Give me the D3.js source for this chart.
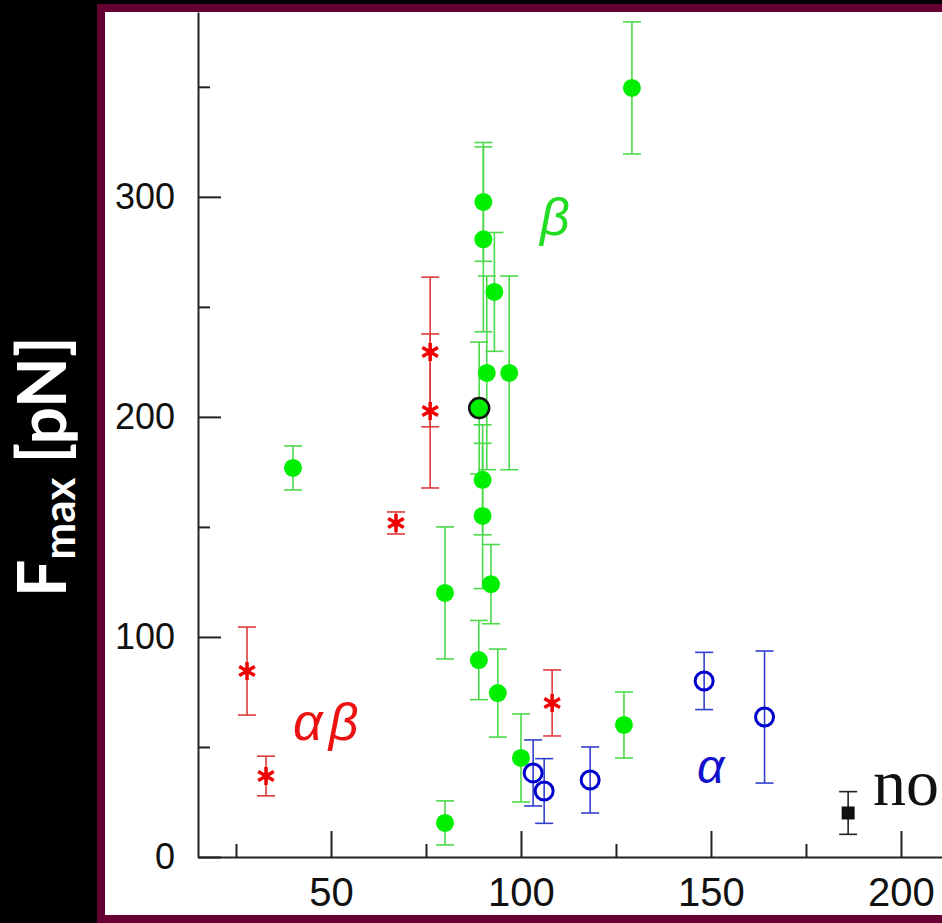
<!DOCTYPE html>
<html>
<head>
<meta charset="utf-8">
<script src="https://cdn.jsdelivr.net/npm/d3@7"></script>
<style>
  body { margin: 0; background: #000; }
  svg { display: block; }
</style>
</head>
<body>
<script>
// beta group (filled green circles): x, Fmax, error
const betaX   = [129.2, 90.1, 90.1, 93.0, 91.0, 96.9, 89.0, 89.9, 89.9, 40.0, 92.1, 80.0, 88.9, 93.9, 100.0, 127.1, 80.0];
const betaY   = [349.5, 297.7, 280.7, 256.8, 220.0, 220.0, 204.0, 171.4, 155.0, 176.8, 124.0, 120.0, 89.5, 74.5, 45.0, 60.0, 15.5];
const betaErr = [30, 27, 42, 27, 44, 44, 30, 25, 33, 10, 18, 30, 18, 20, 20, 15, 10];
const betaHighlight = 6; // the one with a black ring

// alpha-beta group (red asterisks)
const abX   = [27.9, 32.9, 67.1, 76.1, 76.1, 108.2];
const abY   = [84.5, 36.8, 151.8, 229.5, 202.7, 70.0];
const abErr = [20, 9, 5, 34, 35, 15];

// alpha group (open blue circles)
const alphaX   = [103.2, 106.1, 118.2, 148.2, 164.1];
const alphaY   = [38.2, 30.0, 35.0, 80.0, 63.6];
const alphaErr = [15, 14.7, 15, 13, 30];

// no structure (black square)
const noX   = [186.1];
const noY   = [20.0];
const noErr = [9.7];

// ticks
const xMajorTicks = [50, 100, 150, 200];
const xMinorTicks = [25, 75, 125, 175];
const yMajorTicks = [0, 100, 200, 300];
const yMinorTicks = [50, 150, 250, 350];

let width = 942, height = 923;

let svg = d3.select('body')
    .append('svg')
    .attr('width', width)
    .attr('height', height);

// background and frame
svg.append('rect').attr('width', width).attr('height', height).attr('fill', '#000');
svg.append('rect').attr('x', 97).attr('y', 4).attr('width', 900).attr('height', 940).attr('fill', '#660033');
svg.append('rect').attr('x', 105).attr('y', 12).attr('width', 900).attr('height', 903).attr('fill', '#fff');

// scales
const xScale = d3.scaleLinear().domain([15, 210.8]).range([198, 942]);
const yScale = d3.scaleLinear().domain([0, 384]).range([857, 12]);

// axes
function styleAxis(g, size) {
    g.selectAll('path, line').attr('stroke', '#222').attr('stroke-width', 2);
    g.selectAll('text')
        .attr('fill', '#111')
        .style('font-family', '"Liberation Sans", Arial, sans-serif')
        .style('font-size', size + 'px');
}

svg.append('g')
    .attr('transform', 'translate(0,857)')
    .call(d3.axisBottom(xScale).tickValues(xMinorTicks).tickSize(-13).tickFormat(''))
    .call(g => g.select('.domain').remove())
    .call(g => styleAxis(g, 40));

svg.append('g')
    .attr('transform', 'translate(0,857)')
    .call(d3.axisBottom(xScale).tickValues(xMajorTicks).tickSize(-26).tickSizeOuter(0).tickPadding(21))
    .call(g => styleAxis(g, 40));

svg.append('g')
    .attr('transform', 'translate(198,0)')
    .call(d3.axisLeft(yScale).tickValues(yMinorTicks).tickSize(-12).tickFormat(''))
    .call(g => g.select('.domain').remove())
    .call(g => styleAxis(g, 36));

svg.append('g')
    .attr('transform', 'translate(198,0)')
    .call(d3.axisLeft(yScale).tickValues(yMajorTicks).tickSize(-23).tickSizeOuter(0).tickPadding(23))
    .call(g => styleAxis(g, 36));

// y axis title
let yTitle = svg.append('text')
    .attr('transform', 'translate(66,597) rotate(-90)')
    .attr('fill', '#fff')
    .style('font-family', '"Comic Sans MS", Lato, sans-serif')
    .style('font-weight', 'bold')
    .style('font-size', '66px');
yTitle.append('tspan').text('F');
yTitle.append('tspan').attr('dy', 9).style('font-size', '44px').text('max');
yTitle.append('tspan').attr('dy', -9).attr('dx', 14).text('[pN]');

// error bars
function drawErrors(xs, ys, es, color) {
    let g = svg.append('g').attr('stroke', color).attr('stroke-width', 1.6);
    xs.forEach(function(x, i) {
        let px = xScale(x);
        let top = yScale(ys[i] + es[i]), bot = yScale(ys[i] - es[i]);
        g.append('line').attr('x1', px).attr('x2', px).attr('y1', top).attr('y2', bot);
        g.append('line').attr('x1', px - 9).attr('x2', px + 9).attr('y1', top).attr('y2', top);
        g.append('line').attr('x1', px - 9).attr('x2', px + 9).attr('y1', bot).attr('y2', bot);
    });
}

// beta
drawErrors(betaX, betaY, betaErr, '#4cd94c');
svg.append('g').selectAll('circle')
    .data(betaX)
    .enter()
    .append('circle')
    .attr('cx', d => xScale(d))
    .attr('cy', (d, i) => yScale(betaY[i]))
    .attr('r', (d, i) => i === betaHighlight ? 10 : 9)
    .attr('fill', '#00ee00')
    .attr('stroke', (d, i) => i === betaHighlight ? '#111' : 'none')
    .attr('stroke-width', 2.5);

// alpha-beta
drawErrors(abX, abY, abErr, '#e03a3a');
const star = d3.symbol().type(d3.symbolAsterisk).size(230);
svg.append('g').selectAll('path')
    .data(abX)
    .enter()
    .append('path')
    .attr('d', star)
    .attr('transform', (d, i) => `translate(${xScale(d)},${yScale(abY[i])})`)
    .attr('fill', 'none')
    .attr('stroke', '#ee0000')
    .attr('stroke-width', 3.5);

// alpha
drawErrors(alphaX, alphaY, alphaErr, '#3340cc');
svg.append('g').selectAll('circle')
    .data(alphaX)
    .enter()
    .append('circle')
    .attr('cx', d => xScale(d))
    .attr('cy', (d, i) => yScale(alphaY[i]))
    .attr('r', 9)
    .attr('fill', 'none')
    .attr('stroke', '#0000cc')
    .attr('stroke-width', 3);

// no structure
drawErrors(noX, noY, noErr, '#222');
svg.append('g').selectAll('rect')
    .data(noX)
    .enter()
    .append('rect')
    .attr('x', d => xScale(d) - 6.5)
    .attr('y', (d, i) => yScale(noY[i]) - 6.5)
    .attr('width', 13)
    .attr('height', 13)
    .attr('fill', '#111');

// group labels
svg.append('text')
    .attr('x', 540).attr('y', 235)
    .attr('fill', '#22dd22')
    .style('font-family', '"Liberation Sans", Arial, sans-serif')
    .style('font-style', 'italic')
    .style('font-size', '52px')
    .text('β');

svg.append('text')
    .attr('x', 293).attr('y', 740)
    .attr('fill', '#ee1111')
    .style('font-family', '"Liberation Sans", Arial, sans-serif')
    .style('font-style', 'italic')
    .style('font-size', '52px')
    .style('letter-spacing', '6px')
    .text('αβ');

svg.append('text')
    .attr('x', 697).attr('y', 783)
    .attr('fill', '#1111cc')
    .style('font-family', '"Liberation Sans", Arial, sans-serif')
    .style('font-style', 'italic')
    .style('font-size', '48px')
    .text('α');

svg.append('text')
    .attr('x', 873).attr('y', 805)
    .attr('fill', '#111')
    .style('font-family', '"Liberation Serif", "Times New Roman", serif')
    .style('font-size', '66px')
    .text('no');
</script>
</body>
</html>
